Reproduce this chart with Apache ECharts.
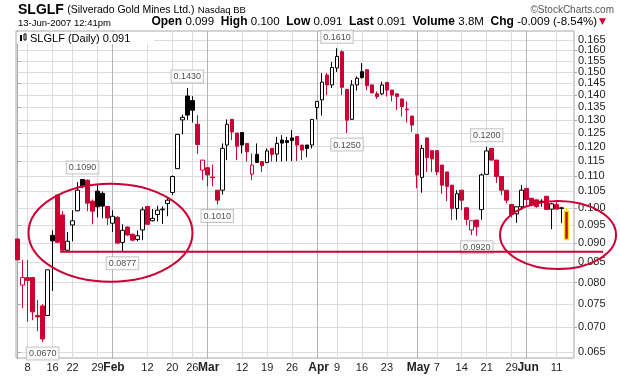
<!DOCTYPE html>
<html>
<head>
<meta charset="utf-8">
<script src="https://cdn.jsdelivr.net/npm/echarts@6/dist/echarts.min.js"></script>
<style>
html,body{margin:0;padding:0;background:#fff}
#chart{width:620px;height:376px}
</style>
</head>
<body>
<div id="chart"></div>
<script>
// daily bars, 4-Jan-2007 .. 13-Jun-2007 (index = trading day)
var opens = [
0.0911,0.0794,0.0812,0.0812,0.0725,0.0746,0.0725,0.0921,0.1039,0.0979,
0.0881,0.0950,0.0991,0.1088,0.1086,0.1020,0.1051,0.1044,0.1004,0.0955,
0.0972,0.0902,0.0944,0.0924,0.0910,0.0936,0.1004,0.0962,0.0980,0.0994,
0.1013,0.1047,0.1124,0.1300,0.1396,0.1377,0.1283,0.1119,0.1127,0.1096,
0.1054,0.1054,0.1206,0.1302,0.1250,0.1252,0.1212,0.1106,0.1173,0.1148,
0.1145,0.1194,0.1174,0.1224,0.1222,0.1232,0.1237,0.1206,0.1206,0.1206,
0.1349,0.1380,0.1486,0.1443,0.1518,0.1593,0.1424,0.1302,0.1443,0.1501,
0.1510,0.1443,0.1405,0.1405,0.1454,0.1421,0.1405,0.1384,0.1343,0.1315,
0.1245,0.1095,0.1232,0.1186,0.1186,0.1136,0.1113,0.1070,0.0998,0.1054,
0.1000,0.0936,0.0964,0.0995,0.1105,0.1194,0.1153,0.1098,0.1054,0.1010,
0.0982,0.1003,0.1059,0.1029,0.1024,0.1018,0.1035,0.0996,0.1010,0.0998,
0.0990];
var closes = [
0.0856,0.0812,0.0805,0.0733,0.0722,0.0676,0.0831,0.0906,0.0902,0.0881,
0.0905,0.0962,0.1054,0.1068,0.1014,0.0990,0.1003,0.1005,0.0970,0.0975,
0.0900,0.0935,0.0922,0.0908,0.0920,0.0994,0.0952,0.0969,0.0993,0.0996,
0.1023,0.1098,0.1245,0.1310,0.1319,0.1338,0.1208,0.1153,0.1103,0.1094,
0.1023,0.1194,0.1283,0.1254,0.1202,0.1206,0.1182,0.1136,0.1145,0.1134,
0.1185,0.1173,0.1212,0.1213,0.1215,0.1222,0.1206,0.1188,0.1194,0.1302,
0.1374,0.1455,0.1443,0.1520,0.1571,0.1433,0.1299,0.1443,0.1472,0.1475,
0.1440,0.1409,0.1394,0.1443,0.1421,0.1400,0.1394,0.1353,0.1340,0.1280,
0.1103,0.1194,0.1162,0.1157,0.1113,0.1070,0.1066,0.0998,0.1043,0.1023,
0.0966,0.0962,0.0945,0.1103,0.1185,0.1153,0.1098,0.1054,0.1023,0.0980,
0.1003,0.1054,0.1025,0.1008,0.1004,0.1020,0.0995,0.1012,0.0996,0.1000,
0.0910];
var highs = [
0.0911,0.0856,0.0856,0.0812,0.0759,0.0750,0.0831,0.0935,0.1039,0.0990,
0.0930,0.0993,0.1080,0.1090,0.1088,0.1025,0.1072,0.1050,0.1004,0.0993,
0.0975,0.0952,0.0946,0.0926,0.0935,0.1002,0.1004,0.0996,0.1006,0.1004,
0.1030,0.1101,0.1245,0.1321,0.1430,0.1395,0.1318,0.1153,0.1127,0.1138,
0.1054,0.1212,0.1302,0.1302,0.1250,0.1252,0.1212,0.1176,0.1212,0.1148,
0.1194,0.1194,0.1236,0.1242,0.1236,0.1261,0.1237,0.1206,0.1206,0.1302,
0.1374,0.1495,0.1495,0.1545,0.1610,0.1600,0.1424,0.1464,0.1480,0.1540,
0.1510,0.1443,0.1415,0.1457,0.1454,0.1421,0.1405,0.1384,0.1374,0.1315,
0.1245,0.1206,0.1232,0.1186,0.1186,0.1136,0.1113,0.1070,0.1054,0.1054,
0.1000,0.0962,0.0964,0.1108,0.1200,0.1194,0.1153,0.1098,0.1054,0.1010,
0.1005,0.1070,0.1059,0.1029,0.1024,0.1026,0.1035,0.1015,0.1023,0.1003,
0.1000];
var lows = [
0.0856,0.0741,0.0712,0.0715,0.0692,0.0670,0.0725,0.0780,0.0900,0.0878,
0.0879,0.0905,0.0990,0.1060,0.0990,0.0952,0.0972,0.0969,0.0950,0.0930,
0.0898,0.0877,0.0920,0.0905,0.0905,0.0908,0.0950,0.0960,0.0960,0.0953,
0.0975,0.1039,0.1124,0.1245,0.1300,0.1290,0.1175,0.1086,0.1066,0.1066,
0.1010,0.1040,0.1153,0.1224,0.1153,0.1176,0.1148,0.1086,0.1145,0.1113,
0.1142,0.1148,0.1148,0.1148,0.1150,0.1150,0.1150,0.1153,0.1163,0.1194,
0.1302,0.1317,0.1400,0.1430,0.1500,0.1400,0.1250,0.1300,0.1419,0.1470,
0.1421,0.1409,0.1384,0.1400,0.1394,0.1374,0.1339,0.1313,0.1290,0.1254,
0.1060,0.1046,0.1113,0.1113,0.1102,0.1043,0.1020,0.0964,0.0965,0.0993,
0.0950,0.0922,0.0920,0.0965,0.1105,0.1153,0.1077,0.1039,0.1013,0.0972,
0.0956,0.0993,0.1003,0.1004,0.1000,0.1003,0.0995,0.0938,0.0996,0.0955,
0.0910];
var prevClose0 = 0.0940; // close of 3-Jan (bar before the chart)

// date axis
var xTickIdx    = [2,7,11,16,19,26,31,35,38,45,50,55,60,64,69,74,80,84,89,94,99,102,108];
var xTickLabels = ['8','16','22','29','Feb','12','20','26','Mar','12','19','26','Apr','9','16','23','May','7','14','21','29','Jun','11'];
var monthIdx    = [19,38,60,80,102];

// price axis (log)
var yTicks = [0.065,0.070,0.075,0.080,0.085,0.090,0.095,0.100,0.105,0.110,0.115,
              0.120,0.125,0.130,0.135,0.140,0.145,0.150,0.155,0.160,0.165];

// high / low call-outs
var calloutIdx = [5,13,21,34,40,64,66,92,94];
var calloutVal = [0.0670,0.1090,0.0877,0.1430,0.1010,0.1610,0.1250,0.0920,0.1200];

// hand drawn marks
var supportLevel = 0.0877;

var RED = '#cc0033';
var FONT = '"Liberation Sans", Arial, sans-serif';
var L = function(v){ return Math.log10(v); };

if (opens.length !== closes.length || highs.length !== lows.length || opens.length !== highs.length) {
	throw new Error('bar arrays differ in length');
}

//split bars: black = close up from previous close, red = down
var blackBars = [], redBars = [], lastBar = [];
var last = closes.length - 1;
for (var i = 0; i < closes.length; i++) {
	var prev = i > 0 ? closes[i - 1] : prevClose0;
	var item = [i, L(opens[i]), L(closes[i]), L(lows[i]), L(highs[i])];
	if (i === last) lastBar.push(item);
	else if (closes[i] >= prev) blackBars.push(item);
	else redBars.push(item);
}

var calloutData = [];
for (var k = 0; k < calloutIdx.length; k++) {
	var isHigh = calloutVal[k] >= highs[calloutIdx[k]] - 1e-9;
	calloutData.push({
		name: calloutVal[k].toFixed(4),
		value: [calloutIdx[k], L(calloutVal[k])],
		label: {position: isHigh ? 'top' : 'bottom'}
	});
}

//labels are tight at the top of a log axis, so put every other tick on a twin axis
var ticksA = yTicks.filter(function(v, n){ return n % 2 === 0; });
var ticksB = yTicks.filter(function(v, n){ return n % 2 === 1; });
var priceAxis = function(ticks, showLine) {
	return {
		type: 'value', position: 'right', min: L(0.06387), max: L(0.1695),
		axisLine: {show: showLine, lineStyle: {color: '#a8a8a8'}},
		axisTick: {show: true, length: 3, customValues: ticks.map(L), lineStyle: {color: '#a8a8a8'}},
		axisLabel: {
			customValues: ticks.map(L), margin: 4, fontSize: 11, color: '#222', fontFamily: FONT,
			hideOverlap: false, showMinLabel: true, showMaxLabel: true,
			formatter: function(v) { return Math.pow(10, v).toFixed(3); }
		},
		splitLine: {show: true, lineStyle: {color: '#dcdcdc', width: 1}}
	};
};

var chart = echarts.init(document.getElementById('chart'));

var option = {
	animation: false,
	backgroundColor: '#fff',
	textStyle: {fontFamily: FONT},
	grid: {left: 16, right: 46, top: 31, bottom: 18, show: true, borderColor: '#a8a8a8', borderWidth: 1, backgroundColor: '#fff'},
	xAxis: {
		type: 'value', min: -0.34, max: 111.5,
		axisLine: {show: false},
		axisTick: {show: false, customValues: xTickIdx},
		axisLabel: {
			customValues: xTickIdx, margin: 4, fontSize: 11, color: '#222', fontFamily: FONT,
			hideOverlap: false, showMinLabel: true, showMaxLabel: true,
			formatter: function(v) {
				var n = Math.round(v);
				var t = xTickLabels[xTickIdx.indexOf(n)];
				return monthIdx.indexOf(n) >= 0 ? '{m|' + t + '}' : t;
			},
			rich: {m: {fontWeight: 'bold', fontSize: 12, color: '#222', fontFamily: FONT, padding: [0, 0, 0, 3]}}
		},
		splitLine: {show: true, lineStyle: {color: '#dcdcdc', width: 1}}
	},
	yAxis: [priceAxis(ticksA, true), priceAxis(ticksB, false)],
	series: [
		{
			name: 'up', type: 'candlestick', barWidth: 4, data: blackBars,
			encode: {x: 0, y: [1, 2, 3, 4]},
			itemStyle: {color: '#fff', color0: '#000', borderColor: '#000', borderColor0: '#000', borderWidth: 1},
			markLine: {
				silent: true, symbol: 'none', z: 1, animation: false,
				label: {show: false},
				lineStyle: {color: '#b4b4b4', type: 'solid', width: 1},
				data: monthIdx.map(function(m){ return {xAxis: m}; })
			}
		},
		{
			name: 'down', type: 'candlestick', barWidth: 4, data: redBars,
			encode: {x: 0, y: [1, 2, 3, 4]},
			itemStyle: {color: '#fff', color0: RED, borderColor: RED, borderColor0: RED, borderWidth: 1}
		},
		{
			name: 'last', type: 'candlestick', barWidth: 5, data: lastBar,
			encode: {x: 0, y: [1, 2, 3, 4]},
			itemStyle: {color: RED, color0: RED, borderColor: '#f2e600', borderColor0: '#f2e600', borderWidth: 1.5}
		},
		{
			name: 'callouts', type: 'scatter', data: calloutData, symbolSize: 1, z: 6,
			itemStyle: {color: 'rgba(0,0,0,0)'},
			label: {
				show: true, formatter: '{b}', distance: 5, fontSize: 9, color: '#222', fontFamily: FONT,
				backgroundColor: '#fff', borderColor: '#b8b8b8', borderWidth: 1, padding: [2, 2, 1, 2]
			}
		}
	]
};
chart.setOption(option);

//annotations placed from data positions
var pS = chart.convertToPixel({gridIndex: 0}, [8.5, L(supportLevel)]);
var e1 = chart.convertToPixel({gridIndex: 0}, [18.6, L(0.0928)]);
var e2 = chart.convertToPixel({gridIndex: 0}, [108.3, L(0.0922)]);

chart.setOption({
	graphic: [
		{type: 'line', z: 50, shape: {x1: pS[0], y1: pS[1], x2: 603, y2: pS[1]}, style: {stroke: RED, lineWidth: 2}},
		{type: 'ellipse', z: 50, shape: {cx: e1[0], cy: e1[1], rx: 82, ry: 49}, style: {stroke: RED, lineWidth: 2, fill: null}},
		{type: 'ellipse', z: 50, shape: {cx: e2[0], cy: e2[1], rx: 58, ry: 34}, style: {stroke: RED, lineWidth: 2, fill: null}},
		{type: 'text', x: 18, y: 3, style: {
			text: '{t|SLGLF} {n|(Silverado Gold Mines Ltd.)} {e|Nasdaq BB}',
			rich: {
				t: {fontSize: 14, fontWeight: 'bold', fill: '#000', fontFamily: FONT},
				n: {fontSize: 10.5, fill: '#000', fontFamily: FONT},
				e: {fontSize: 9.5, fill: '#000', fontFamily: FONT}
			}
		}},
		{type: 'text', x: 614, y: 5, style: {text: '\u00a9StockCharts.com', align: 'right', fontSize: 10, fill: '#555', fontFamily: FONT}},
		{type: 'text', x: 18, y: 18, style: {text: '13-Jun-2007 12:41pm', fontSize: 9.5, fill: '#000', fontFamily: FONT}},
		{type: 'text', x: 606, y: 16, style: {
			align: 'right',
			text: '{b|Open} {v|0.099}  {b|High} {v|0.100}  {b|Low} {v|0.091}  {b|Last} {v|0.091}  {b|Volume} {v|3.8M}  {b|Chg} {v|-0.009 (-8.54%)}{r|\u25bc}',
			rich: {
				b: {fontSize: 12, fontWeight: 'bold', fill: '#000', fontFamily: FONT},
				v: {fontSize: 11.5, fill: '#000', fontFamily: FONT},
				r: {fontSize: 9, fill: RED, fontFamily: '"DejaVu Sans", sans-serif', padding: [0, 0, 0, 2]}
			}
		}},
		{type: 'rect', z: 40, shape: {x: 17, y: 32, width: 137, height: 12}, style: {fill: '#fff'}},
		{type: 'rect', z: 41, shape: {x: 20, y: 35, width: 2, height: 6}, style: {fill: '#000'}},
		{type: 'rect', z: 41, shape: {x: 24, y: 34, width: 2, height: 6}, style: {fill: '#fff', stroke: '#000', lineWidth: 1}},
		{type: 'text', z: 41, x: 30, y: 33, style: {text: 'SLGLF (Daily) 0.091', fontSize: 11, fill: '#000', fontFamily: FONT}}
	]
});
</script>
</body>
</html>
